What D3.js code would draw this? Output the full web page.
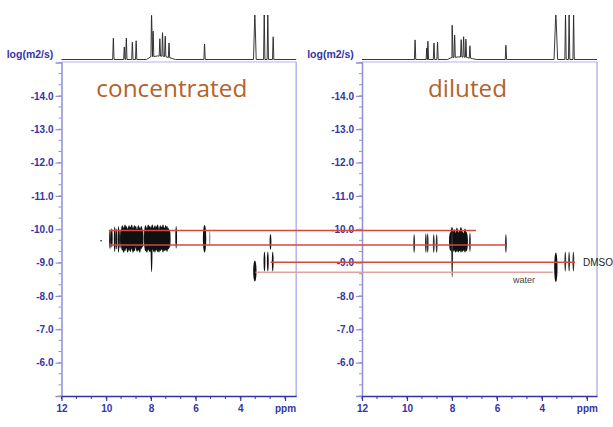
<!DOCTYPE html>
<html><head><meta charset="utf-8">
<script src="https://cdn.jsdelivr.net/npm/d3@7"></script>
<style>body{margin:0;background:#fff}svg{display:block}</style>
</head><body><svg id="c" width="613" height="427"></svg>
<script>
// ---------- data ----------
const panelTitles = ["concentrated", "diluted"];
const yTickValues = [-14, -13, -12, -11, -10, -9, -8, -7, -6];
const xTickValues = [12, 10, 8, 6, 4, 2];
const xTickLabels = ["12", "10", "8", "6", "4", "ppm"];
const yAxisLabel = "log(m2/s)";

// 1D spectra (ppm, relative height, half base width ppm)
const concSpecPpm = [9.68, 9.19, 9.10, 8.83, 8.66, 7.97, 7.90, 7.60, 7.48, 7.36, 7.19, 5.60, 3.35, 2.93, 2.77, 2.53];
const concSpecH   = [0.48, 0.28, 0.48, 0.39, 0.42, 0.93, 0.57, 0.39, 0.53, 0.46, 0.33, 0.35, 1.0, 1.0, 1.0, 0.51];
const concSpecW   = [0.03, 0.03, 0.03, 0.03, 0.03, 0.04, 0.03, 0.03, 0.03, 0.03, 0.03, 0.03, 0.06, 0.03, 0.03, 0.03];
const dilSpecPpm  = [9.64, 9.12, 9.07, 8.80, 8.64, 7.99, 7.88, 7.59, 7.48, 7.38, 7.20, 5.60, 3.38, 2.95, 2.79, 2.59];
const dilSpecH    = [0.44, 0.26, 0.41, 0.37, 0.39, 0.73, 0.50, 0.39, 0.46, 0.41, 0.28, 0.32, 1.0, 1.0, 1.0, 1.0];
const dilSpecW    = [0.03, 0.03, 0.03, 0.03, 0.03, 0.04, 0.03, 0.03, 0.03, 0.03, 0.03, 0.03, 0.08, 0.03, 0.03, 0.03];
// broad aromatic hump under the spectra
const humpPpm  = [8.2, 8.0, 7.7, 7.4, 7.1, 6.9];
const concHump = [0, 0.06, 0.08, 0.07, 0.03, 0];
const dilHump  = [0, 0.04, 0.06, 0.05, 0.02, 0];

// 2D DOSY peaks: ppm, lower/upper log D, kind (b = broad, n = narrow, d = dot, e = ellipse, g = grey)
const concPpm  = [10.23, 9.83, 9.75, 9.62, 9.55, 9.45, 9.38, 9.28, 9.22, 9.16, 9.10, 9.04, 8.98, 8.92, 8.86, 8.80, 8.74, 8.68, 8.62, 8.56, 8.50, 8.43, 8.37, 8.24, 8.18, 8.12, 8.06, 8.00, 7.94, 7.88, 7.82, 7.76, 7.70, 7.64, 7.58, 7.52, 7.46, 7.40, 7.34, 7.28, 7.22, 7.16, 7.97, 6.87, 5.60, 5.37, 2.65, 2.92, 2.77, 2.55, 3.35];
const concDlo  = [-9.68, -10.00, -10.03, -10.08, -10.02, -10.10, -10.00, -10.12, -10.06, -10.14, -10.10, -10.04, -10.12, -10.08, -10.14, -10.06, -10.12, -10.10, -10.02, -10.12, -10.06, -10.10, -9.98, -10.12, -10.06, -10.14, -10.10, -10.08, -10.14, -10.06, -10.12, -10.10, -10.14, -10.04, -10.12, -10.08, -10.14, -10.06, -10.12, -10.10, -10.04, -9.98, -10.00, -10.10, -10.13, -9.96, -9.86, -9.33, -9.33, -9.33, -9.06];
const concDhi  = [-9.63, -9.40, -9.45, -9.32, -9.40, -9.30, -9.42, -9.36, -9.30, -9.34, -9.42, -9.30, -9.36, -9.32, -9.40, -9.30, -9.34, -9.44, -9.32, -9.36, -9.30, -9.40, -9.45, -9.34, -9.30, -9.36, -9.32, -9.30, -9.38, -9.32, -9.30, -9.36, -9.32, -9.30, -9.34, -9.38, -9.30, -9.34, -9.36, -9.32, -9.40, -9.44, -8.71, -9.42, -9.30, -9.48, -9.38, -8.73, -8.73, -8.73, -8.43];
const concKind = ["d","n","n","n","n","n","n","b","b","b","b","b","b","b","b","b","b","b","b","b","b","b","n","b","b","b","b","b","b","b","b","b","b","b","b","b","b","b","b","b","b","n","n","n","e","g","n","n","n","n","e"];

const dilPpm  = [9.68, 9.16, 9.08, 8.81, 8.68, 8.06, 8.00, 7.95, 7.90, 7.84, 7.78, 7.72, 7.66, 7.60, 7.54, 7.48, 7.42, 7.36, 7.99, 7.20, 5.60, 2.96, 2.79, 2.60, 3.38];
const dilDlo  = [-9.86, -9.88, -9.88, -9.86, -9.86, -9.92, -10.07, -9.95, -10.00, -9.90, -10.05, -9.92, -9.98, -10.07, -9.94, -9.90, -10.02, -9.92, -10.04, -9.90, -9.86, -9.33, -9.33, -9.33, -9.30];
const dilDhi  = [-9.29, -9.29, -9.29, -9.29, -9.29, -9.35, -9.30, -9.32, -9.35, -9.30, -9.32, -9.30, -9.34, -9.30, -9.32, -9.35, -9.30, -9.34, -8.55, -9.32, -9.29, -8.73, -8.73, -8.73, -8.42];
const dilKind = ["n","n","n","n","n","b","b","b","b","b","b","b","b","b","b","b","b","b","n","n","n","n","n","n","e"];

// correlation lines linking both spectra
const linkD        = [-9.96, -9.53, -9.01, -8.71];
const linkStartPpm = [9.88, 9.83, 2.65, 3.32];
const linkEndPpm   = [6.93, 5.60, 2.53, 3.51];
const linkLabels   = ["", "", "DMSO", "water"];

// ---------- drawing ----------
const svg = d3.select("#c");
const blue = "#3434a6";
const axisLav = "#9090da";
const frameLav = "#b4b4ea";
const tickFont = "'Liberation Sans', Arial, sans-serif";

const y = d3.scaleLinear().domain([-15, -5]).range([62.5, 396]);
const yS = d3.scaleLinear().domain([0, 1]).range([59.5, 15]);

const panels = [
  { x: d3.scaleLinear().domain([12, 1.5]).range([61.5, 296.2]), ppm: concPpm, lo: concDlo, hi: concDhi, kind: concKind,
    sp: concSpecPpm, sh: concSpecH, sw: concSpecW, hump: concHump, title: panelTitles[0], titleLen: 151 },
  { x: d3.scaleLinear().domain([12, 1.55]).range([362, 597]), ppm: dilPpm, lo: dilDlo, hi: dilDhi, kind: dilKind,
    sp: dilSpecPpm, sh: dilSpecH, sw: dilSpecW, hump: dilHump, title: panelTitles[1], titleLen: 79 }
];

function humpAt(p, hv) {
  const f = d3.scaleLinear().domain(humpPpm).range(hv).clamp(true);
  return (p > humpPpm[0] || p < humpPpm[humpPpm.length - 1]) ? 0 : f(p);
}

panels.forEach((P, i) => {
  const x = P.x;
  const [x0, x1] = x.range();
  const g = svg.append("g");

  // frame: top and right
  g.append("line").attr("x1", x0).attr("x2", x1).attr("y1", 62).attr("y2", 62).attr("stroke", frameLav).attr("stroke-width", 1.2);
  g.append("line").attr("x1", x1).attr("x2", x1).attr("y1", 62).attr("y2", 396).attr("stroke", frameLav).attr("stroke-width", 1.5);

  // minor ticks
  const yMinor = d3.range(0, 31).map(k => -15 + k / 3);
  g.selectAll(".ymin").data(yMinor).join("line")
    .attr("x1", x0 - 3).attr("x2", x0).attr("y1", d => y(d)).attr("y2", d => y(d))
    .attr("stroke", axisLav).attr("stroke-width", 1);
  const xMinor = d3.range(0, 16).map(k => 12 - k * 2 / 3).filter(v => v >= x.domain()[1]);
  g.selectAll(".xmin").data(xMinor).join("line")
    .attr("x1", d => x(d)).attr("x2", d => x(d)).attr("y1", 396).attr("y2", 399)
    .attr("stroke", blue).attr("stroke-width", 1);

  // y axis
  const ya = g.append("g").attr("transform", `translate(${x0},0)`)
    .call(d3.axisLeft(y).tickValues(yTickValues).tickFormat(d => d.toFixed(1)).tickSize(6).tickPadding(2));
  ya.select(".domain").attr("stroke", axisLav).attr("stroke-width", 1.5);
  ya.selectAll(".tick line").attr("stroke", axisLav).attr("stroke-width", 1.2);
  ya.selectAll("text").attr("fill", blue).attr("font-family", tickFont).attr("font-weight", "bold").attr("font-size", 10);

  // x axis
  const xa = g.append("g").attr("transform", `translate(0,396)`)
    .call(d3.axisBottom(x).tickValues(xTickValues).tickFormat((d, k) => xTickLabels[k]).tickSize(5).tickSizeOuter(0).tickPadding(4));
  xa.select(".domain").attr("stroke", blue).attr("stroke-width", 1.3);
  xa.selectAll(".tick line").attr("stroke", blue).attr("stroke-width", 1.2);
  xa.selectAll("text").attr("fill", blue).attr("font-family", tickFont).attr("font-weight", "bold").attr("font-size", 10);

  // y-axis title
  g.append("text").attr("x", x0 - 31.5).attr("y", 58).attr("text-anchor", "middle")
    .attr("fill", blue).attr("font-family", tickFont).attr("font-weight", "bold").attr("font-size", 10.5)
    .text(yAxisLabel);

  // 1D spectrum
  const pts = [[x.domain()[0], 0]];
  humpPpm.forEach((p, k) => pts.push([p, P.hump[k]]));
  P.sp.forEach((p, k) => {
    const b = humpAt(p, P.hump);
    pts.push([p + P.sw[k], b], [p + P.sw[k] * 0.15, b + P.sh[k] * 0.92], [p, b + P.sh[k]], [p - P.sw[k] * 0.15, b + P.sh[k] * 0.92], [p - P.sw[k], b]);
  });
  pts.push([x.domain()[1], 0]);
  pts.sort((a, b) => b[0] - a[0]);
  g.append("path").attr("d", d3.line().x(d => x(d[0])).y(d => yS(d[1]))(pts))
    .attr("fill", "none").attr("stroke", "#222").attr("stroke-width", 0.9);

  // title
  g.append("text").attr("x", (x0 + x1) / 2 + (i === 0 ? -7 : -12)).attr("y", 97).attr("text-anchor", "middle")
    .attr("fill", "#b4622c").attr("font-family", "'Open Sans', sans-serif").attr("font-size", 24)
    .attr("textLength", P.titleLen).attr("lengthAdjust", "spacingAndGlyphs")
    .text(P.title);

  // 2D peaks
  const peaks = P.ppm.map((p, k) => ({ p, lo: P.lo[k], hi: P.hi[k], kind: P.kind[k] }));
  const rxOf = { b: 1.6, n: 0.9, d: 0.8, e: 1.7, g: 0.7 };
  g.selectAll(".pk").data(peaks).join("ellipse")
    .attr("cx", d => x(d.p))
    .attr("cy", d => y((d.lo + d.hi) / 2))
    .attr("rx", d => rxOf[d.kind])
    .attr("ry", d => Math.max(0.8, Math.abs(y(d.hi) - y(d.lo)) / 2))
    .attr("fill", d => d.kind === "g" ? "#999" : (d.kind === "n" && i === 1 ? "#333" : "#111"));
});

// correlation lines across both panels
const xL = panels[0].x, xR = panels[1].x;
svg.selectAll(".link").data(linkD).join("line")
  .attr("x1", (d, k) => xL(linkStartPpm[k]))
  .attr("x2", (d, k) => xR(linkEndPpm[k]))
  .attr("y1", d => y(d)).attr("y2", d => y(d))
  .attr("stroke", (d, k) => k === 3 ? "#dfa3a0" : "#d24a40")
  .attr("stroke-width", (d, k) => k === 3 ? 1.3 : 1.5);

// labels for solvent lines
svg.append("text").attr("x", xR(linkEndPpm[2]) + 8).attr("y", y(linkD[2]) + 3.5)
  .attr("font-family", tickFont).attr("font-size", 10).attr("fill", "#222").text(linkLabels[2]);
svg.append("text").attr("x", xR(linkEndPpm[3]) - 40).attr("y", y(linkD[3]) + 11)
  .attr("font-family", tickFont).attr("font-size", 9).attr("fill", "#444").text(linkLabels[3]);
</script></body></html>
